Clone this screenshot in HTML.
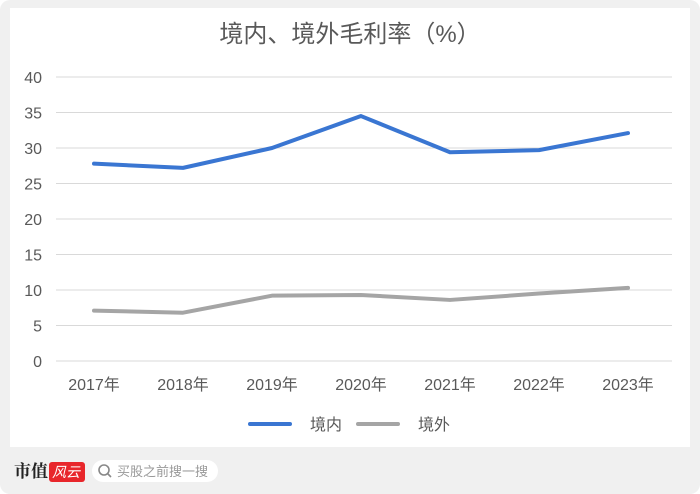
<!DOCTYPE html>
<html><head><meta charset="utf-8"><style>
body{margin:0;width:700px;height:494px;background:#fff;font-family:"Liberation Sans","Noto Sans CJK SC",sans-serif;overflow:hidden}
#outer{position:absolute;left:0;top:0;width:700px;height:494px;background:#f0f0f0;border-radius:10px}
#card{position:absolute;left:10px;top:8px;width:680px;height:439px;background:#fff}
</style></head><body>
<div id="outer"></div>
<div id="card"></div>
<svg width="700" height="494" style="position:absolute;left:0;top:0">
<text x="350" y="42" text-anchor="middle" font-size="24" fill="#595959">境内、境外毛利率（%）</text>
<g id="grid"></g><g id="series"></g>
<g>
<line x1="250" y1="424" x2="290" y2="424" stroke="#3a76d2" stroke-width="4" stroke-linecap="round"/>
<text x="310" y="430" font-size="16" fill="#595959">境内</text>
<line x1="358" y1="424" x2="398" y2="424" stroke="#a5a5a5" stroke-width="4" stroke-linecap="round"/>
<text x="418" y="430" font-size="16" fill="#595959">境外</text>
</g>
<g>
<text x="14" y="477" font-size="17" font-weight="bold" fill="#222" font-family="Noto Serif CJK SC, serif">市值</text>
<rect x="49" y="462" width="36" height="20" rx="3" fill="#e8262b"/>
<text x="52" y="477" font-size="14" fill="#fff" font-style="italic">风云</text>
</g>
<g>
<rect x="92" y="460" width="126" height="22" rx="11" fill="#fff"/>
<circle cx="104" cy="470" r="5" fill="none" stroke="#888" stroke-width="1.6"/>
<line x1="108" y1="474" x2="111" y2="477" stroke="#888" stroke-width="1.6"/>
<text x="117" y="476" font-size="13" fill="#999">买股之前搜一搜</text>
</g>
</svg>
<script>
const categories=["2017年","2018年","2019年","2020年","2021年","2022年","2023年"];
const domestic=[27.8,27.2,30.0,34.5,29.4,29.7,32.1];
const overseas=[7.1,6.8,9.2,9.3,8.6,9.5,10.3];
const yTicks=[0,5,10,15,20,25,30,35,40];
const NS="http://www.w3.org/2000/svg";
const x=i=>94+i*89, y=v=>361-v*(284/40);
const grid=document.getElementById('grid'), ser=document.getElementById('series');
yTicks.forEach(t=>{
 const l=document.createElementNS(NS,'line');
 l.setAttribute('x1',56);l.setAttribute('x2',672);l.setAttribute('y1',y(t));l.setAttribute('y2',y(t));
 l.setAttribute('stroke','#d9d9d9');l.setAttribute('stroke-width',1);
 
 
 grid.appendChild(l);
 const tx=document.createElementNS(NS,'text');
 tx.setAttribute('x',42);tx.setAttribute('y',y(t)+6);tx.setAttribute('text-anchor','end');
 tx.setAttribute('font-size',16);tx.setAttribute('fill','#595959');tx.textContent=t;
 
 
 grid.appendChild(tx);
});
categories.forEach((c,i)=>{
 const tx=document.createElementNS(NS,'text');
 tx.setAttribute('x',x(i));tx.setAttribute('y',390);tx.setAttribute('text-anchor','middle');
 tx.setAttribute('font-size',16);tx.setAttribute('fill','#595959');tx.textContent=c;
 
 
 grid.appendChild(tx);
});
function line(data,color,name){
 const p=document.createElementNS(NS,'polyline');
 p.setAttribute('points',data.map((v,i)=>x(i)+','+y(v)).join(' '));
 p.setAttribute('fill','none');p.setAttribute('stroke',color);p.setAttribute('stroke-width',4);
 p.setAttribute('stroke-linejoin','round');p.setAttribute('stroke-linecap','round');
 
 
 ser.appendChild(p);
}
line(overseas,'#a5a5a5','line-overseas');
line(domestic,'#3a76d2','line-domestic');
</script>
</body></html>
